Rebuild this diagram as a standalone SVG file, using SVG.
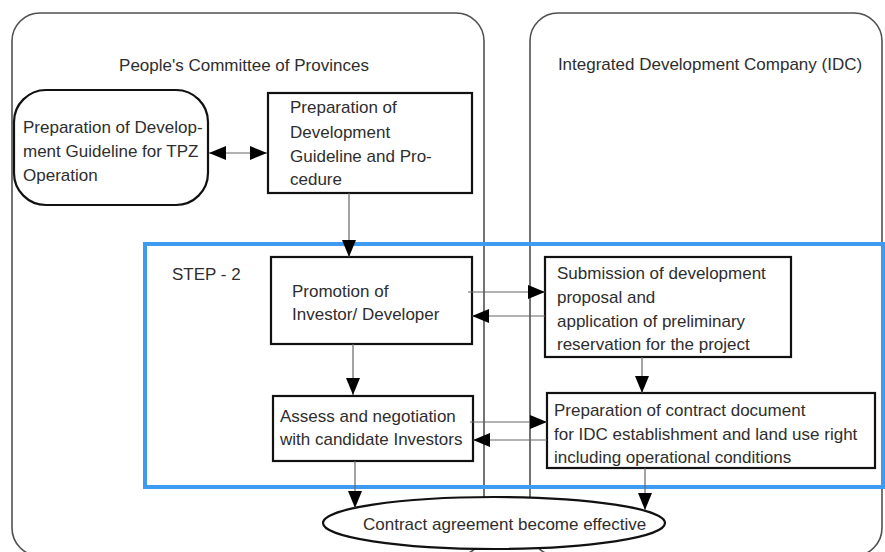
<svg xmlns="http://www.w3.org/2000/svg" width="885" height="552" viewBox="0 0 885 552">
  <defs>
    <style>
      .lane { fill: #ffffff; stroke: #505050; stroke-width: 1.6; }
      .box { fill: #ffffff; stroke: #111111; stroke-width: 2.2; }
      .step { fill: none; stroke: #3d9cf2; stroke-width: 4; }
      .link { fill: none; stroke: #666666; stroke-width: 1.2; }
      text { font-family: "Liberation Sans", Arial, sans-serif; font-size: 17px; fill: #2e2e2e; }
    </style>
    <marker id="head" viewBox="0 0 17 14" refX="17" refY="7" markerWidth="17" markerHeight="14" markerUnits="userSpaceOnUse" orient="auto-start-reverse">
      <path d="M0,0 L17,7 L0,14 z" fill="#000000"/>
    </marker>
  </defs>

  <rect width="885" height="552" fill="#ffffff"/>

  <!-- swimlanes -->
  <g id="lane-provinces">
    <rect class="lane" x="12" y="13" width="472" height="543" rx="28"/>
    <text x="244" y="71" text-anchor="middle">People's Committee of Provinces</text>
  </g>
  <g id="lane-idc">
    <rect class="lane" x="530" y="13" width="352" height="543" rx="28"/>
    <text x="710" y="70" text-anchor="middle">Integrated Development Company (IDC)</text>
  </g>

  <!-- step frame -->
  <g id="step-2">
    <rect class="step" x="145" y="244" width="738" height="243"/>
    <text x="172" y="280">STEP - 2</text>
  </g>

  <!-- nodes -->
  <g id="guideline-tpz">
    <rect class="box" x="14" y="90" width="194" height="115" rx="32"/>
    <text x="23" y="133">Preparation of Develop-</text>
    <text x="23" y="157">ment Guideline for TPZ</text>
    <text x="23" y="181">Operation</text>
  </g>
  <g id="guideline-procedure">
    <rect class="box" x="268" y="93" width="204" height="100"/>
    <text x="290" y="113">Preparation of</text>
    <text x="290" y="138">Development</text>
    <text x="290" y="162">Guideline and Pro-</text>
    <text x="290" y="185">cedure</text>
  </g>
  <g id="promotion">
    <rect class="box" x="271" y="257" width="201" height="87"/>
    <text x="292" y="297">Promotion of</text>
    <text x="292" y="320">Investor/ Developer</text>
  </g>
  <g id="assess">
    <rect class="box" x="273" y="396" width="200" height="65"/>
    <text x="280" y="422">Assess and negotiation</text>
    <text x="280" y="445">with candidate Investors</text>
  </g>
  <g id="submission">
    <rect class="box" x="545" y="257" width="246" height="100"/>
    <text x="557" y="279">Submission of development</text>
    <text x="557" y="303">proposal and</text>
    <text x="557" y="327">application of preliminary</text>
    <text x="557" y="350">reservation for the project</text>
  </g>
  <g id="contract-document">
    <rect class="box" x="547" y="393" width="328" height="75"/>
    <text x="554" y="416">Preparation of contract document</text>
    <text x="554" y="440">for IDC establishment and land use right</text>
    <text x="554" y="463">including operational conditions</text>
  </g>
  <g id="agreement">
    <ellipse class="box" cx="494" cy="523" rx="171" ry="26"/>
    <text x="363" y="530">Contract agreement become effective</text>
  </g>

  <!-- connectors -->
  <g id="connectors">
    <line class="link" x1="209" y1="153" x2="267" y2="153" marker-start="url(#head)" marker-end="url(#head)"/>
    <line class="link" x1="349" y1="193" x2="349" y2="257" marker-end="url(#head)"/>
    <line class="link" x1="353" y1="344" x2="353" y2="395" marker-end="url(#head)"/>
    <line class="link" x1="355" y1="461" x2="355" y2="508" marker-end="url(#head)"/>
    <line class="link" x1="642" y1="357" x2="642" y2="393" marker-end="url(#head)"/>
    <line class="link" x1="645" y1="468" x2="645" y2="510" marker-end="url(#head)"/>
    <line class="link" x1="468" y1="292" x2="545" y2="292" marker-end="url(#head)"/>
    <line class="link" x1="545" y1="316" x2="472" y2="316" marker-end="url(#head)"/>
    <line class="link" x1="470" y1="422" x2="547" y2="422" marker-end="url(#head)"/>
    <line class="link" x1="547" y1="440" x2="473" y2="440" marker-end="url(#head)"/>
  </g>
</svg>
